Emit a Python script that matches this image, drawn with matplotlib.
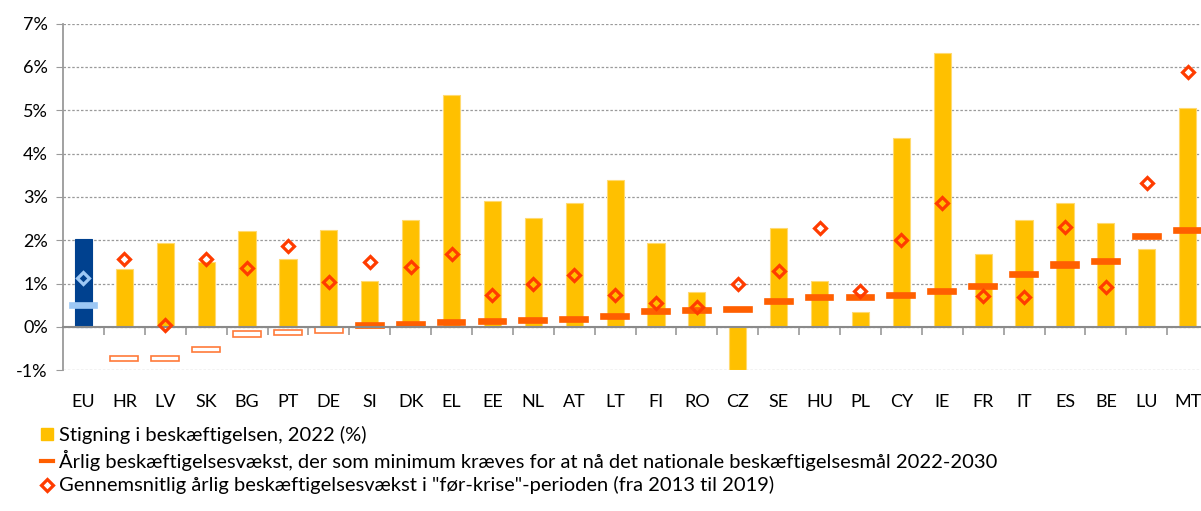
import matplotlib.pyplot as plt
from matplotlib.patches import Patch
from matplotlib.lines import Line2D
import numpy as np

countries = ['EU', 'HR', 'LV', 'SK', 'BG', 'PT', 'DE', 'SI', 'DK', 'EL', 'EE', 'NL', 'AT', 'LT',
             'FI', 'RO', 'CZ', 'SE', 'HU', 'PL', 'CY', 'IE', 'FR', 'IT', 'ES', 'BE', 'LU', 'MT']
growth_2022 = [2.03, 1.33, 1.94, 1.50, 2.21, 1.57, 2.24, 1.07, 2.47, 5.34, 2.90, 2.51, 2.86, 3.39,
               1.94, 0.80, -1.00, 2.28, 1.06, 0.34, 4.37, 6.32, 1.69, 2.47, 2.87, 2.39, 1.80, 5.06]
required = [0.50, -0.73, -0.73, -0.52, -0.16, -0.13, -0.07, 0.04, 0.06, 0.10, 0.13, 0.15, 0.17, 0.24,
            0.36, 0.38, 0.40, 0.59, 0.68, 0.68, 0.73, 0.82, 0.93, 1.21, 1.43, 1.51, 2.08, 2.22]
pre_crisis = [1.14, 1.57, 0.05, 1.56, 1.36, 1.87, 1.03, 1.51, 1.39, 1.68, 0.74, 1.00, 1.19, 0.74,
              0.55, 0.46, 1.00, 1.29, 2.28, 0.84, 2.01, 2.85, 0.71, 0.69, 2.31, 0.93, 3.31, 5.88]

plt.rcParams['font.family'] = ['Lato', 'DejaVu Sans']

YELLOW = '#FFC000'
EU_BLUE = '#00418F'
LIGHT_BLUE = '#9DC8F5'
DASH = '#FF5F00'
DIAMOND = '#FF3C00'

fig = plt.figure(figsize=(12.01, 5.11), dpi=100)
ax = fig.add_axes([0.0525, 0.2753, 0.9534, 0.6787])

x = np.arange(len(countries))
bar_colors = [EU_BLUE if c == 'EU' else YELLOW for c in countries]
edge_colors = [EU_BLUE if c == 'EU' else '#FFDA70' for c in countries]
ax.bar(x, growth_2022, width=0.42, color=bar_colors, edgecolor=edge_colors, linewidth=0.8, zorder=2)

# required annual growth: short thick dashes (hollow when negative)
req = np.array(required)
dash_face = [LIGHT_BLUE if c == 'EU' else ('white' if v < 0 else DASH) for c, v in zip(countries, req)]
dash_edge = [LIGHT_BLUE if c == 'EU' else ('#FF7A3A' if v < 0 else DASH) for c, v in zip(countries, req)]
ax.bar(x, 0.12, bottom=req - 0.06, width=0.68, color=dash_face, edgecolor=dash_edge,
       linewidth=1.2, zorder=3)

# pre-crisis average: hollow diamonds
for xi, v, c in zip(x, pre_crisis, countries):
    ax.plot(xi, v, marker='D', ms=6, mfc='none', mew=2.3,
            mec=LIGHT_BLUE if c == 'EU' else DIAMOND, zorder=4)

ax.set_xlim(-0.5, len(countries) - 0.5)
ax.set_ylim(-1, 7)
ax.set_yticks(range(-1, 8))
ax.set_yticklabels([f'{v}%' for v in range(-1, 8)], fontsize=13)
ax.grid(axis='y', color='#9A9A9A', linestyle=(0, (2, 1.5)), linewidth=0.9, zorder=0)
ax.tick_params(axis='y', length=5, color='#9A9A9A', pad=6)

for s in ['top', 'right']:
    ax.spines[s].set_visible(False)
ax.spines['left'].set_color('#9A9A9A')
ax.spines['left'].set_linewidth(1.3)
ax.spines['bottom'].set_position(('data', 0))
ax.spines['bottom'].set_color('#8A8A8A')
ax.spines['bottom'].set_linewidth(1.5)
ax.spines['bottom'].set_zorder(3)

ax.set_xticks(x[:-1] + 0.5)
ax.set_xticklabels([])
ax.tick_params(axis='x', which='major', length=6, color='#9A9A9A', width=1.2)
ax.set_xticks(x, minor=True)
ax.set_xticklabels(countries, minor=True, fontsize=13)
ax.tick_params(axis='x', which='minor', length=0, pad=48)

handles = [
    Patch(facecolor=YELLOW, edgecolor=YELLOW),
    Line2D([], [], color=DASH, lw=3),
    Line2D([], [], marker='D', ls='none', ms=6, mfc='none', mec=DIAMOND, mew=2.3),
]
labels = [
    'Stigning i beskæftigelsen, 2022 (%)',
    'Årlig beskæftigelsesvækst, der som minimum kræves for at nå det nationale beskæftigelsesmål 2022-2030',
    'Gennemsnitlig årlig beskæftigelsesvækst i "før-krise"-perioden (fra 2013 til 2019)',
]
fig.legend(handles, labels, loc='lower left', bbox_to_anchor=(0.034, 0.033), frameon=False,
           fontsize=14.5, handlelength=0.6, handleheight=0.55, handletextpad=0.3, labelspacing=0.27,
           borderaxespad=0, borderpad=0)

fig.savefig('out.png', dpi=100)
